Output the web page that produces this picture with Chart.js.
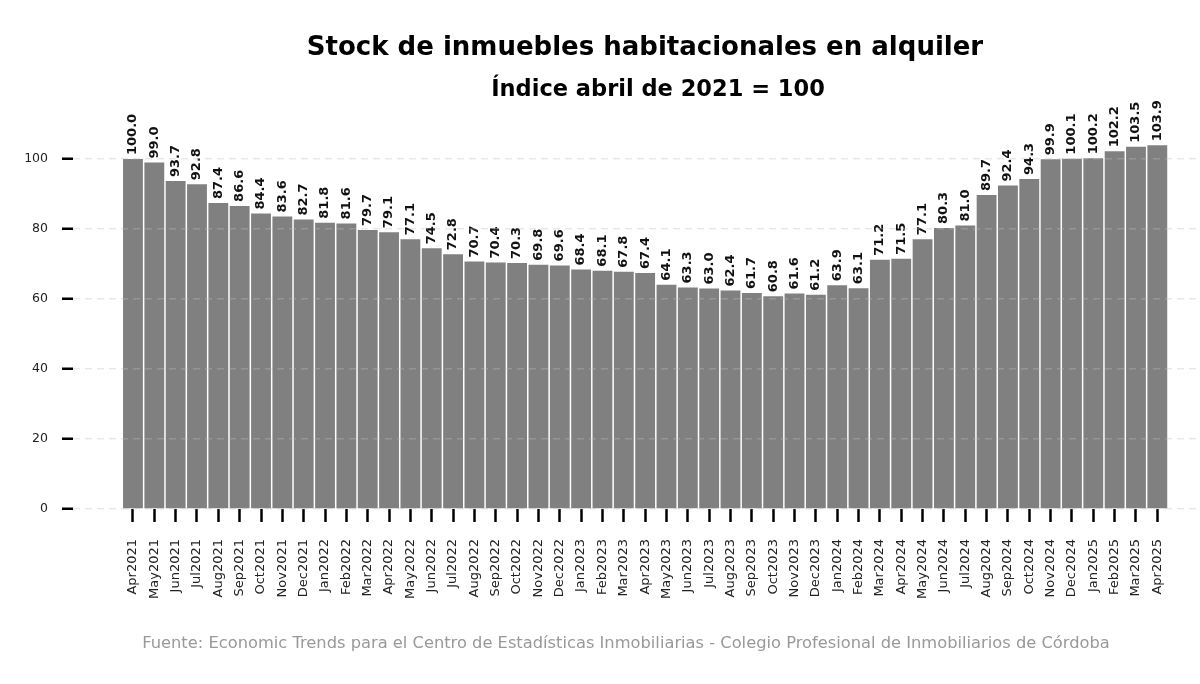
<!DOCTYPE html>
<html>
<head>
<meta charset="utf-8">
<script src="https://cdn.jsdelivr.net/npm/chart.js@4.4.1/dist/chart.umd.min.js"></script>
<style>
  html, body { margin: 0; padding: 0; background: #fff; }
  #wrap { width: 1200px; height: 684px; position: relative; }
</style>
</head>
<body>
<div id="wrap"><canvas id="grafico"></canvas></div>
<script>
// Meses (Apr2021 - Apr2025)
const meses = [
    "Apr2021", "May2021", "Jun2021", "Jul2021", "Aug2021", "Sep2021", "Oct2021", "Nov2021", "Dec2021",
    "Jan2022", "Feb2022", "Mar2022", "Apr2022", "May2022", "Jun2022", "Jul2022", "Aug2022", "Sep2022", "Oct2022", "Nov2022", "Dec2022",
    "Jan2023", "Feb2023", "Mar2023", "Apr2023", "May2023", "Jun2023", "Jul2023", "Aug2023", "Sep2023", "Oct2023", "Nov2023", "Dec2023",
    "Jan2024", "Feb2024", "Mar2024", "Apr2024", "May2024", "Jun2024", "Jul2024", "Aug2024", "Sep2024", "Oct2024", "Nov2024", "Dec2024",
    "Jan2025", "Feb2025", "Mar2025", "Apr2025"
];

// Índice de stock (abril 2021 = 100)
const indice = [
    100.0, 99.0, 93.7, 92.8, 87.4, 86.6, 84.4, 83.6, 82.7,
    81.8, 81.6, 79.7, 79.1, 77.1, 74.5, 72.8, 70.7, 70.4, 70.3, 69.8, 69.6,
    68.4, 68.1, 67.8, 67.4, 64.1, 63.3, 63.0, 62.4, 61.7, 60.8, 61.6, 61.2,
    63.9, 63.1, 71.2, 71.5, 77.1, 80.3, 81.0, 89.7, 92.4, 94.3, 99.9, 100.1,
    100.2, 102.2, 103.5, 103.9
];

const ticksY = [0, 20, 40, 60, 80, 100];

const titulo = "Stock de inmuebles habitacionales en alquiler";
const subtitulo = "Índice abril de 2021 = 100";
const fuente = "Fuente: Economic Trends para el Centro de Estadísticas Inmobiliarias - Colegio Profesional de Inmobiliarios de Córdoba";

const FONT = "'DejaVu Sans', sans-serif";

// Etiquetas de valor sobre cada barra (rotadas)
const etiquetasBarras = {
    id: "etiquetasBarras",
    afterDatasetsDraw(chart) {
        const ctx = chart.ctx;
        const meta = chart.getDatasetMeta(0);
        ctx.save();
        ctx.font = "bold 13px " + FONT;
        ctx.fillStyle = "#111";
        ctx.textAlign = "left";
        ctx.textBaseline = "middle";
        meta.data.forEach((bar, i) => {
            ctx.save();
            ctx.translate(bar.x, bar.y - 4);
            ctx.rotate(-Math.PI / 2);
            ctx.fillText(indice[i].toFixed(1), 0, 0);
            ctx.restore();
        });
        ctx.restore();
    }
};

// Títulos y fuente
const textos = {
    id: "textos",
    afterDraw(chart) {
        const ctx = chart.ctx;
        ctx.save();
        ctx.textAlign = "center";
        ctx.textBaseline = "alphabetic";
        ctx.fillStyle = "#000";
        ctx.font = "bold 26px " + FONT;
        ctx.fillText(titulo, 645, 55);
        ctx.font = "bold 22.5px " + FONT;
        ctx.fillText(subtitulo, 658, 96);
        ctx.fillStyle = "#999";
        ctx.font = "16.3px " + FONT;
        ctx.fillText(fuente, 626, 648);
        ctx.restore();
    }
};

new Chart(document.getElementById("grafico"), {
    type: "bar",
    data: {
        datasets: [{
            label: "Stock",
            data: indice.map((v, i) => ({ x: i, y: v })),
            backgroundColor: "#808080",
            borderWidth: 0,
            categoryPercentage: 1,
            barPercentage: 0.93
        }]
    },
    options: {
        responsive: true,
        maintainAspectRatio: false,
        animation: false,
        layout: { padding: { top: 124, right: 0, bottom: 0, left: 0 } },
        plugins: {
            legend: { display: false },
            tooltip: { enabled: false },
            title: { display: false }
        },
        scales: {
            x: {
                type: "linear",
                min: -2.81,
                max: 50.0,
                offset: false,
                afterBuildTicks: (scale) => {
                    scale.ticks = meses.map((_, i) => ({ value: i }));
                },
                afterFit: (scale) => { scale.height = 684 - 509; },
                border: { display: false },
                grid: {
                    offset: false,
                    drawOnChartArea: false,
                    drawTicks: true,
                    tickLength: 13,
                    tickColor: "#000",
                    tickWidth: 2.5
                },
                ticks: {
                    autoSkip: false,
                    maxRotation: 90,
                    minRotation: 90,
                    padding: 17,
                    color: "#222",
                    font: { family: FONT, size: 13 },
                    callback: (v) => meses[v]
                }
            },
            y: {
                min: 0,
                max: 110,
                afterBuildTicks: (scale) => {
                    scale.ticks = ticksY.map(v => ({ value: v }));
                },
                afterFit: (scale) => { scale.width = 73; },
                border: { display: false, dash: [7, 5] },
                grid: {
                    z: 1,
                    color: "rgba(190,190,190,0.35)",
                    lineWidth: 1.5,
                    tickLength: 11,
                    tickColor: "#000",
                    tickWidth: 2.5
                },
                ticks: {
                    padding: 14,
                    color: "#222",
                    font: { family: FONT, size: 12.5 }
                }
            }
        }
    },
    plugins: [etiquetasBarras, textos]
});
</script>
</body>
</html>
